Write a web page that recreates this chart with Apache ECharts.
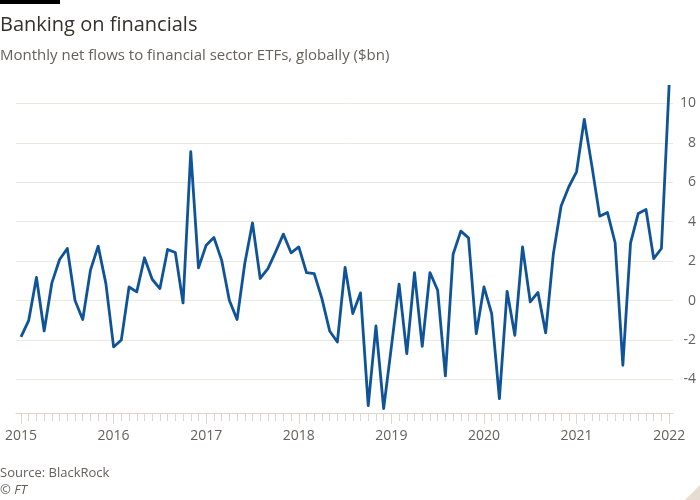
<!DOCTYPE html>
<html>
<head>
<meta charset="utf-8">
<script src="https://cdn.jsdelivr.net/npm/echarts@6/dist/echarts.min.js"></script>
<style>
html,body{margin:0;padding:0;background:#fff;}
#chart{width:700px;height:500px;}
</style>
</head>
<body>
<div id="chart"></div>
<script>
// Monthly net flows to financial sector ETFs ($bn), Jan 2015 .. Jan 2022
const startYear = 2015;
const values = [
  -1.84, -1.0, 1.17, -1.54, 0.9, 2.08, 2.64, 0.0, -0.96, 1.54, 2.76, 0.86,
  -2.35, -2.0, 0.69, 0.44, 2.17, 1.08, 0.61, 2.59, 2.44, -0.12, 7.55, 1.66,
  2.81, 3.2, 2.05, 0.02, -0.96, 1.88, 3.94, 1.12, 1.62, 2.47, 3.37, 2.42,
  2.72, 1.42, 1.37, 0.1, -1.54, -2.1, 1.68, -0.66, 0.39, -5.33, -1.29, -5.48,
  -2.35, 0.83, -2.69, 1.42, -2.32, 1.42, 0.52, -3.82, 2.35, 3.52, 3.18, -1.68,
  0.69, -0.66, -4.97, 0.47, -1.76, 2.72, -0.07, 0.41, -1.64, 2.39, 4.79, 5.77,
  6.53, 9.19, 6.79, 4.28, 4.47, 2.93, -3.28, 2.93, 4.42, 4.62, 2.13, 2.64,
  10.93
];
const months = values.map((v, i) => {
  const y = startYear + Math.floor(i / 12);
  const m = (i % 12) + 1;
  return y + '-' + String(m).padStart(2, '0');
});
const yearLabels = ['2015', '2016', '2017', '2018', '2019', '2020', '2021', '2022'];
const yTicks = [-4, -2, 0, 2, 4, 6, 8, 10];

const monthIdx = months.map((m, i) => i);
const yearIdx = yearLabels.map(y => (Number(y) - startYear) * 12);
const seriesData = values.map((v, i) => [monthIdx[i], v]);

const chart = echarts.init(document.getElementById('chart'));
const FONT = 'Open Sans';
const TICK = '#e0d6cd';
chart.setOption({
  backgroundColor: '#ffffff',
  animation: false,
  textStyle: { fontFamily: FONT },
  graphic: [
    { type: 'rect', left: 0, top: 0, shape: { width: 60, height: 4 }, style: { fill: '#000' } },
    { type: 'text', left: 0, top: 15, style: { text: 'Banking on financials', fill: '#33302e', font: '20px "Open Sans"' } },
    { type: 'text', left: 0, top: 48, style: { text: 'Monthly net flows to financial sector ETFs, globally ($bn)', fill: '#66605c', font: '15px "Open Sans"' } },
    { type: 'text', left: 0, top: 467, style: { text: 'Source: BlackRock', fill: '#66605c', font: '13px "Open Sans"' } },
    { type: 'text', left: 0, top: 484, style: { text: '© FT', fill: '#66605c', font: 'italic 13px "Open Sans"' } },
    { type: 'polygon', shape: { points: [[700, 485], [700, 500], [685, 500]] }, style: { fill: '#e6dccf' } }
  ],
  grid: { left: 16, right: 27, top: 83.6, bottom: 87, containLabel: false },
  xAxis: [
    {
      type: 'value', min: -0.65, max: 84.5,
      axisLine: { show: true, onZero: false, lineStyle: { color: TICK, width: 1 } },
      axisTick: { show: true, customValues: monthIdx, length: 8, lineStyle: { color: TICK } },
      axisLabel: { show: false },
      splitLine: { show: false }
    },
    {
      type: 'value', min: -0.65, max: 84.5, position: 'bottom',
      axisLine: { show: false, onZero: false },
      axisTick: { show: true, customValues: yearIdx, length: 11, lineStyle: { color: TICK } },
      axisLabel: {
        show: true, customValues: yearIdx, margin: 16,
        color: '#66605c', fontSize: 14, fontFamily: FONT,
        formatter: v => String(startYear + Math.round(v / 12))
      },
      splitLine: { show: false }
    }
  ],
  yAxis: {
    type: 'value', position: 'right', min: -5.7, max: 11,
    axisLine: { show: false },
    axisTick: { show: false, customValues: yTicks },
    axisLabel: { customValues: yTicks, align: 'right', margin: 23, color: '#66605c', fontSize: 14, fontFamily: FONT },
    splitLine: { show: true, lineStyle: { color: '#ede7e1', width: 1 } }
  },
  series: [{
    type: 'line', data: seriesData, xAxisIndex: 0,
    symbol: 'none', clip: false,
    lineStyle: { color: '#0f5499', width: 2.8, join: 'round' }
  }]
});
</script>
</body>
</html>
